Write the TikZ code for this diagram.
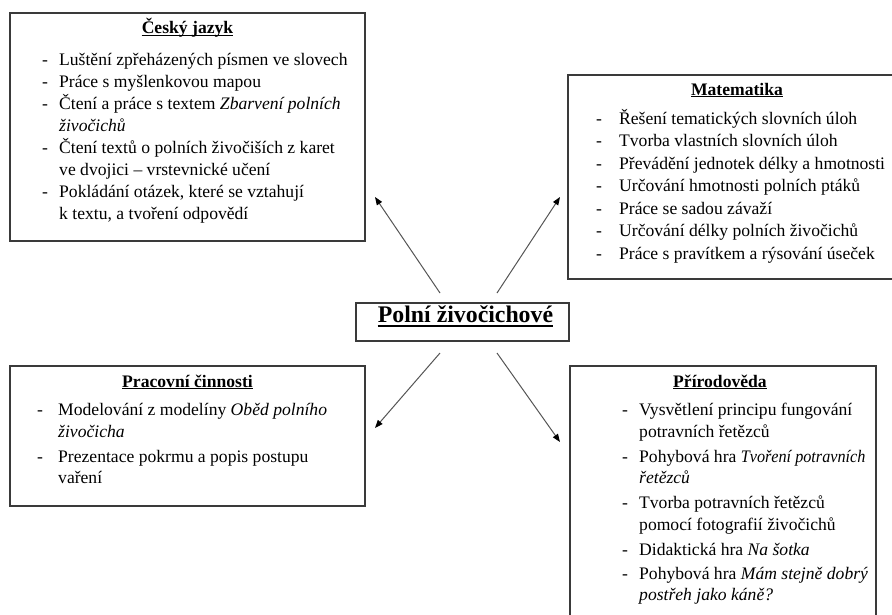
\documentclass[tikz,border=0pt]{standalone}
\usepackage{fontspec}
\setmainfont{Liberation Serif}
\usetikzlibrary{arrows.meta}
\definecolor{boxgray}{HTML}{3A3A3A}
\definecolor{arrgray}{HTML}{555555}
\newcommand{\bodysize}{\fontsize{17.6}{22}\selectfont}
\newcommand{\topicsize}{\fontsize{23.8}{28}\selectfont}
\tikzset{
  box/.style={draw=boxgray, line width=1.3pt, inner sep=0pt},
  ln/.style={anchor=mid west, inner sep=0pt, font=\bodysize},
  hd/.style={anchor=mid, inner sep=0pt, font=\bodysize\bfseries},
  topic/.style={anchor=mid, inner sep=0pt, font=\topicsize\bfseries},
  uline/.style={draw=black, line width=1pt},
  link/.style={draw=arrgray, line width=1pt, -{Triangle[length=8pt,width=6pt,black]}}
}
\begin{document}
\begin{tikzpicture}[x=1pt,y=-1pt]
\useasboundingbox (0,0) rectangle (892,614);
\clip (0,0) rectangle (892,614);

% frames
\node[box, minimum width=355pt, minimum height=228pt] (cjbox) at (187.5,127) {};
\node[box, minimum width=338pt, minimum height=204pt] (mabox) at (737,177) {};
\node[box, minimum width=213pt, minimum height=38pt]  (topicbox) at (462.5,322) {};
\node[box, minimum width=355pt, minimum height=140pt] (pcbox) at (187.5,436) {};
\node[box, minimum width=306pt, minimum height=274pt] (prbox) at (723,503) {};

% central topic
\node[topic] (topic) at (465.5,320) {Polní živočichové};
\draw[uline, line width=1.6pt] ([yshift=-3.5pt]topic.base west) -- ([yshift=-3.5pt]topic.base east);

% Český jazyk
\node[hd] (cj0) at (187.5,31.7) {Český jazyk};
\draw[uline] ([yshift=-1.5pt]cj0.base west) -- ([yshift=-1.5pt]cj0.base east);
\node[ln] (cj1) at (42,63)  {\makebox[17pt][l]{-}Luštění zpřeházených písmen ve slovech};
\node[ln] (cj2) at (42,85)  {\makebox[17pt][l]{-}Práce s myšlenkovou mapou};
\node[ln] (cj3) at (42,107) {\makebox[17pt][l]{-}Čtení a práce s textem \textit{Zbarvení polních}};
\node[ln] (cj4) at (59,129) {\textit{živočichů}};
\node[ln] (cj5) at (42,151) {\makebox[17pt][l]{-}Čtení textů o polních živočiších z karet};
\node[ln] (cj6) at (59,173) {ve dvojici – vrstevnické učení};
\node[ln] (cj7) at (42,195) {\makebox[17pt][l]{-}Pokládání otázek, které se vztahují};
\node[ln] (cj8) at (59,217) {k textu, a tvoření odpovědí};

% Matematika
\node[hd] (ma0) at (737,93) {Matematika};
\draw[uline] ([yshift=-1.5pt]ma0.base west) -- ([yshift=-1.5pt]ma0.base east);
\node[ln] (ma1) at (596,122)   {\makebox[23pt][l]{-}Řešení tematických slovních úloh};
\node[ln] (ma2) at (596,144.5) {\makebox[23pt][l]{-}Tvorba vlastních slovních úloh};
\node[ln] (ma3) at (596,167)   {\makebox[23pt][l]{-}Převádění jednotek délky a hmotnosti};
\node[ln] (ma4) at (596,189.5) {\makebox[23pt][l]{-}Určování hmotnosti polních ptáků};
\node[ln] (ma5) at (596,212)   {\makebox[23pt][l]{-}Práce se sadou závaží};
\node[ln] (ma6) at (596,234.5) {\makebox[23pt][l]{-}Určování délky polních živočichů};
\node[ln] (ma7) at (596,257)   {\makebox[23pt][l]{-}Práce s pravítkem a rýsování úseček};

% Pracovní činnosti
\node[hd] (pc0) at (187.5,385) {Pracovní činnosti};
\draw[uline] ([yshift=-1.5pt]pc0.base west) -- ([yshift=-1.5pt]pc0.base east);
\node[ln] (pc1) at (37,413) {\makebox[21pt][l]{-}Modelování z modelíny \textit{Oběd polního}};
\node[ln] (pc2) at (58,435) {\textit{živočicha}};
\node[ln] (pc3) at (37,460) {\makebox[21pt][l]{-}Prezentace pokrmu a popis postupu};
\node[ln] (pc4) at (58,481) {vaření};

% Přírodověda
\node[hd] (pr0) at (720,385) {Přírodověda};
\draw[uline] ([yshift=-1.5pt]pr0.base west) -- ([yshift=-1.5pt]pr0.base east);
\node[ln] (pr1) at (622,413) {\makebox[17pt][l]{-}Vysvětlení principu fungování};
\node[ln] (pr2) at (639,435) {potravních řetězců};
\node[ln] (pr3) at (622,460) {\makebox[17pt][l]{-}Pohybová hra \scalebox{0.92}[1]{\textit{Tvoření potravních}}};
\node[ln] (pr4) at (639,481) {\textit{řetězců}};
\node[ln] (pr5) at (622,506) {\makebox[17pt][l]{-}Tvorba potravních řetězců};
\node[ln] (pr6) at (639,528) {pomocí fotografií živočichů};
\node[ln] (pr7) at (622,553) {\makebox[17pt][l]{-}Didaktická hra \textit{Na šotka}};
\node[ln] (pr8) at (622,577) {\makebox[17pt][l]{-}Pohybová hra \textit{Mám stejně dobrý}};
\node[ln] (pr9) at (639,598) {\textit{postřeh jako káně?}};

% connector ends
\coordinate (ulA) at (440,293); \coordinate (ulB) at (375,197);
\coordinate (urA) at (497,293); \coordinate (urB) at (560,197);
\coordinate (llA) at (440,353); \coordinate (llB) at (375,428);
\coordinate (lrA) at (497,353); \coordinate (lrB) at (560,442);

\draw[link] (ulA) -- (ulB);
\draw[link] (urA) -- (urB);
\draw[link] (llA) -- (llB);
\draw[link] (lrA) -- (lrB);
\end{tikzpicture}
\end{document}
